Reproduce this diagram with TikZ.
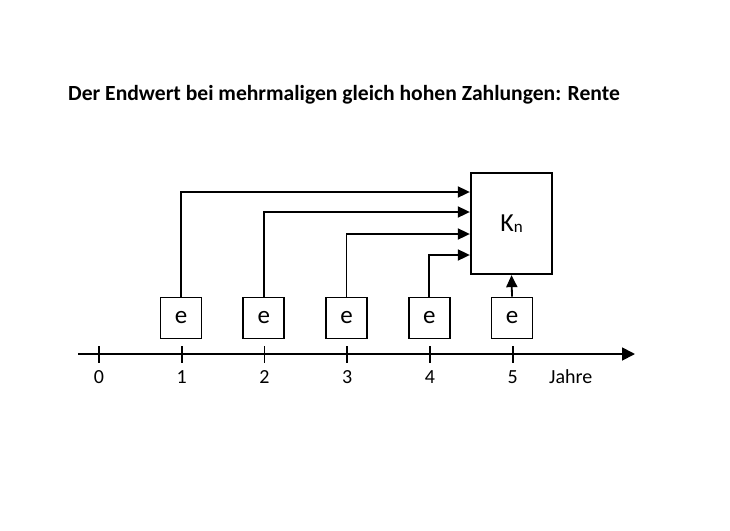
\documentclass[tikz,border=0pt]{standalone}
\usepackage{fontspec}
\setmainfont{Carlito}
\usetikzlibrary{positioning,arrows.meta}
\tikzset{
  ebox/.style={draw,line width=1.8pt,minimum width=41pt,minimum height=41pt,inner sep=0pt,font=\fontsize{25}{25}\selectfont},
  endbox/.style={draw,line width=1.8pt,minimum width=81.5pt,minimum height=101.5pt,inner sep=0pt},
  flow/.style={line width=1.8pt,-{Triangle[length=12pt,width=11pt]}},
  yearlbl/.style={anchor=base,font=\fontsize{20}{20}\selectfont}
}
\begin{document}
\begin{tikzpicture}[x=1pt,y=-1pt]
\useasboundingbox (0,0) rectangle (730,530);
\node[anchor=base west,font=\bfseries\fontsize{21.6}{21.6}\selectfont,inner sep=0pt] (title) at (68,100.7) {Der Endwert bei mehrmaligen gleich hohen Zahlungen: Rente};
% Endwert
\node[endbox] (Kn) at (511.5,223.5) {\fontsize{26}{26}\selectfont K{\fontsize{17}{17}\selectfont\raisebox{-1.5pt}{n}}};
% Zahlungen
\foreach \i in {1,...,5}
  \node[ebox] (e\i) at ({181+82.75*(\i-1)},318) {e};
% Zeitachse
\coordinate (axstart) at (78,354);
\coordinate (axend) at (635,354);
\draw[flow,-{Triangle[length=13pt,width=13pt]}] (axstart) -- (axend);
\foreach \k in {0,...,5}{
  \draw[line width=1.8pt] ({99+82.75*\k},346) -- ({99+82.75*\k},363);
  \node[yearlbl] (y\k) at ({99+82.75*\k},383) {\k};
}
\node[yearlbl,anchor=base west,inner sep=0pt] (jahre) at (549,383) {Jahre};
% Pfeile
\draw[flow] (e1.north) |- ([yshift=31.5pt]Kn.west);
\draw[flow] (e2.north) |- ([yshift=11.5pt]Kn.west);
\draw[flow] (e3.north) |- ([yshift=-10.5pt]Kn.west);
\draw[flow] (e4.north) |- ([yshift=-31.5pt]Kn.west);
\draw[flow] (e5.north) -- (Kn.south);
\end{tikzpicture}
\end{document}
